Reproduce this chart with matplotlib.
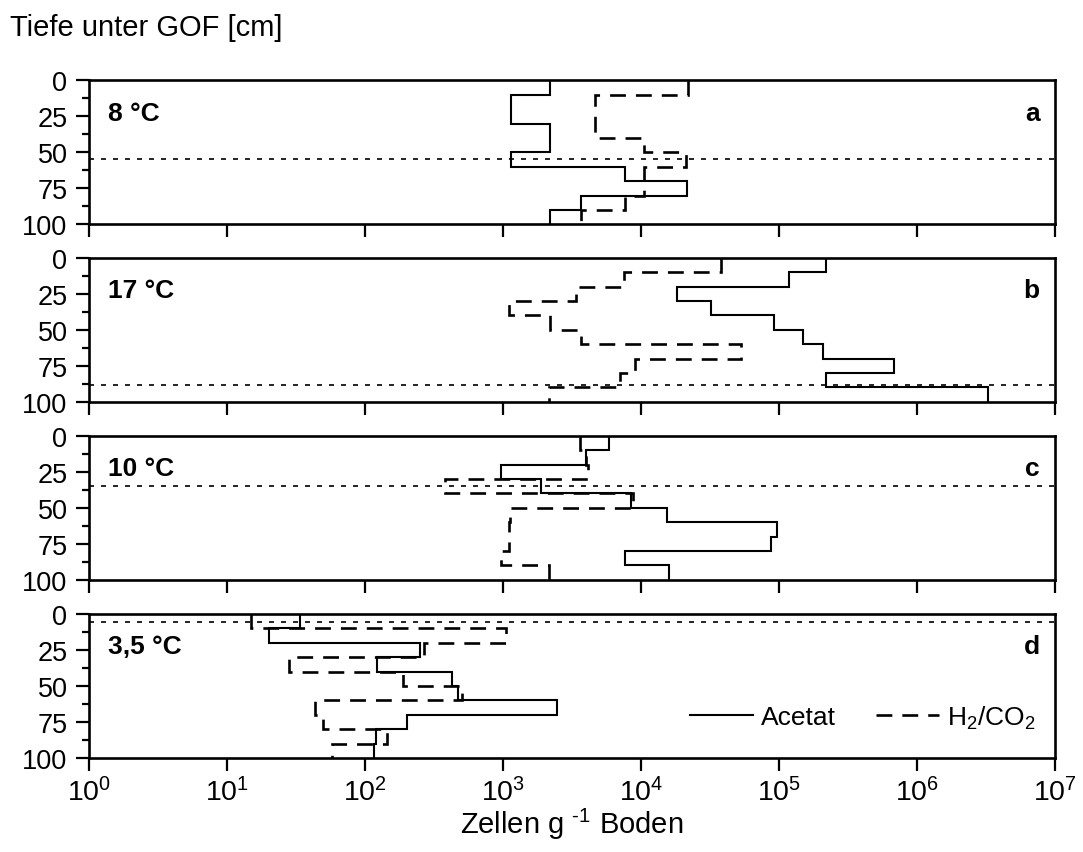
import matplotlib
matplotlib.use("Agg")
import matplotlib.pyplot as plt
import numpy as np
from matplotlib.ticker import NullLocator, MultipleLocator, FixedLocator

plt.rcParams['font.family'] = ['Liberation Sans', 'DejaVu Sans']
plt.rcParams['mathtext.fontset'] = 'custom'
plt.rcParams['mathtext.rm'] = 'Liberation Sans'
plt.rcParams['mathtext.it'] = 'Liberation Sans:italic'

# depth intervals (cm)
depth_edges = [0, 10, 20, 30, 40, 50, 60, 70, 80, 90, 100]

panel_temps = ['8 °C', '17 °C', '10 °C', '3,5 °C']
panel_letters = ['a', 'b', 'c', 'd']
x_ticks = [1e0, 1e1, 1e2, 1e3, 1e4, 1e5, 1e6, 1e7]
y_ticks = [0, 25, 50, 75, 100]

# cells per g soil, one value per 10 cm interval
acetat = [
    [2.2e3, 1.15e3, 1.15e3, 2.2e3, 2.2e3, 1.15e3, 7.6e3, 2.15e4, 3.7e3, 2.2e3],
    [2.2e5, 1.19e5, 1.82e4, 3.2e4, 9.2e4, 1.49e5, 2.08e5, 6.8e5, 2.2e5, 3.27e6],
    [5.9e3, 4.0e3, 9.6e2, 1.9e3, 8.4e3, 1.54e4, 9.7e4, 8.8e4, 7.6e3, 1.6e4],
    [34, 20, 249, 122, 429, 471, 2450, 202, 120, 116],
]
h2co2 = [
    [2.19e4, 4.65e3, 4.65e3, 4.65e3, 1.06e4, 2.13e4, 1.06e4, 1.06e4, 7.6e3, 3.7e3],
    [3.8e4, 7.5e3, 3.36e3, 1.11e3, 2.2e3, 3.67e3, 5.3e4, 9.1e3, 7.0e3, 2.15e3],
    [3.64e3, 4.0e3, 4.16e3, 3.8e2, 8.7e3, 1.12e3, 1.11e3, 1.11e3, 9.6e2, 2.14e3],
    [15, 1045, 267, 28, 189, 507, 43.6, 50, 145, 57.5],
]
# dotted reference line (depth, cm)
water_table = [54.5, 88.5, 35, 5.5]

fig = plt.figure(figsize=(10.83, 8.53), dpi=100)
W, H = 1083, 853
left, right = 89, 1055
tops = [81.3, 258.7, 436.7, 615]
ph = 144

fs = 21
for i in range(4):
    ax = fig.add_axes([left / W, 1 - (tops[i] + ph) / H, (right - left) / W, ph / H])
    ax.set_xscale('log')
    ax.set_xlim(1, 1e7)
    ax.set_ylim(100, 0)
    ax.stairs(acetat[i], depth_edges, orientation='horizontal', baseline=None,
              color='black', lw=1.5, label='Acetat')
    ax.stairs(h2co2[i], depth_edges, orientation='horizontal', baseline=None,
              color='black', lw=1.9, linestyle=(0, (6.0, 3.8)), label='H$_2$/CO$_2$')
    ax.axhline(water_table[i], color='black', lw=1.2, linestyle=(0, (3.0, 4.2)))

    for s in ax.spines.values():
        s.set_linewidth(1.9)
    ax.xaxis.set_major_locator(FixedLocator(x_ticks))
    ax.xaxis.set_minor_locator(NullLocator())
    ax.yaxis.set_major_locator(FixedLocator(y_ticks))
    ax.yaxis.set_minor_locator(MultipleLocator(12.5))
    ax.tick_params(axis='both', which='major', direction='out', length=9.5, width=1.6)
    ax.tick_params(axis='y', which='major', labelsize=19.5, pad=6)
    ax.tick_params(axis='x', which='major', labelsize=20.5, pad=4)
    ax.tick_params(axis='y', which='minor', direction='out', length=5, width=1.6)
    if i < 3:
        ax.tick_params(axis='x', labelbottom=False)

    ax.text(0.02, 0.775, panel_temps[i], transform=ax.transAxes, fontsize=19,
            fontweight='bold', va='center', ha='left')
    ax.text(0.984, 0.775, panel_letters[i], transform=ax.transAxes, fontsize=19,
            fontweight='bold', va='center', ha='right')

    if i == 3:
        ax.set_xlabel('Zellen g $^{\\text{-1}}$ Boden', fontsize=fs, labelpad=0)
        ax.legend(ncol=2, frameon=False, loc='center right', bbox_to_anchor=(0.98, 0.285),
                  borderaxespad=0, borderpad=0, fontsize=19, handlelength=2.4,
                  handletextpad=0.3, columnspacing=1.5)

fig.text(10 / W, 1 - 28 / H, 'Tiefe unter GOF [cm]', fontsize=fs, va='center', ha='left')

fig.savefig('out.png', dpi=100)
